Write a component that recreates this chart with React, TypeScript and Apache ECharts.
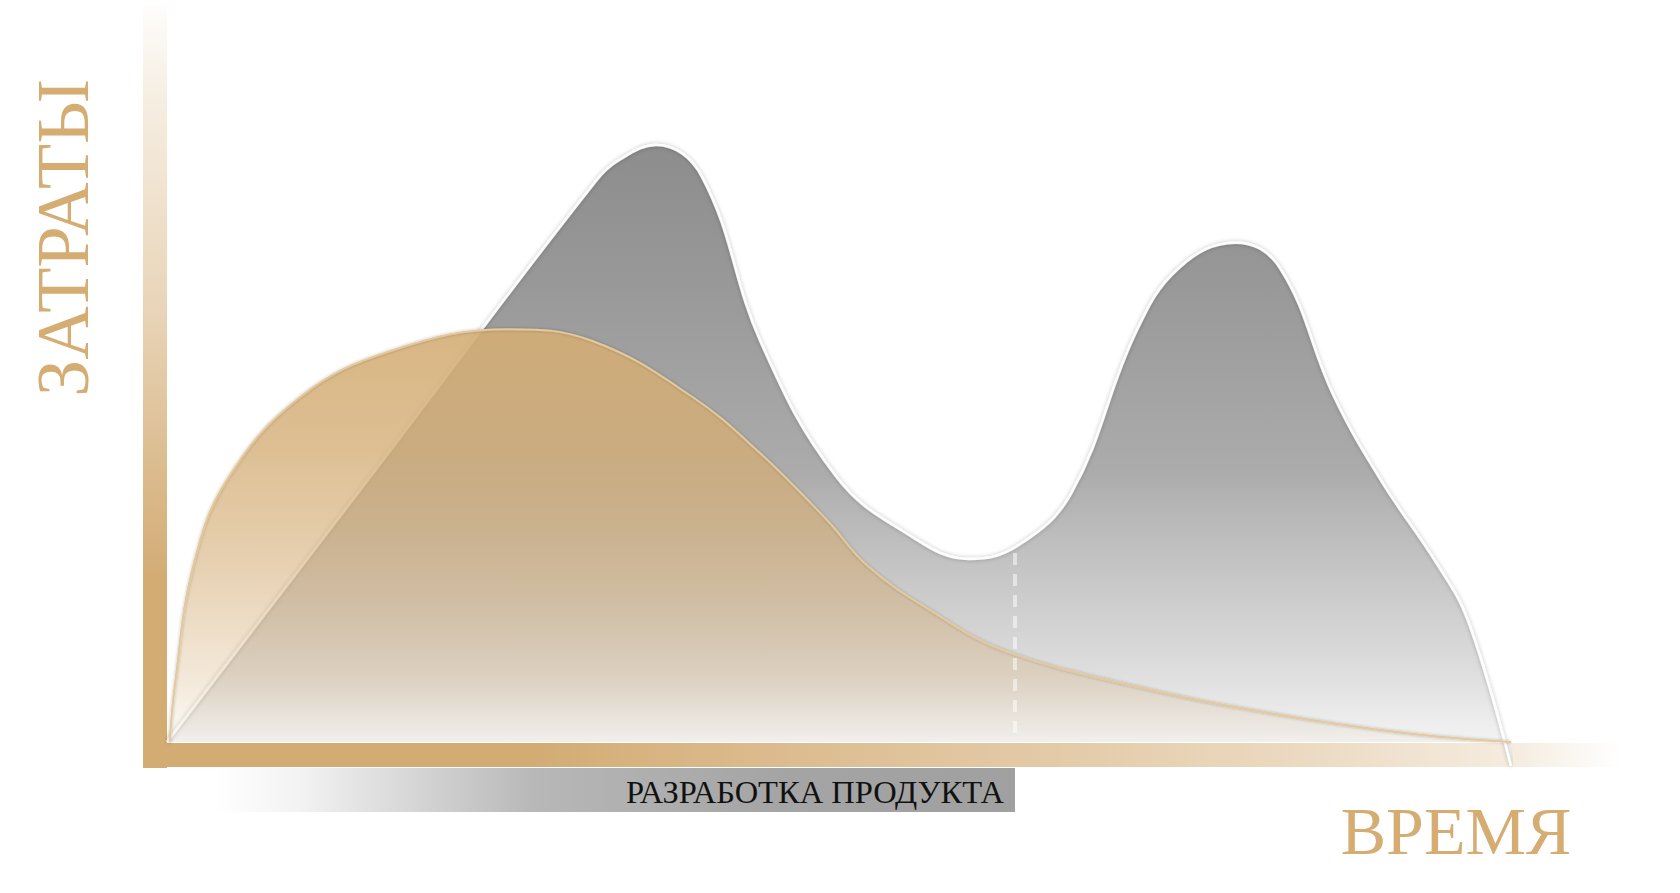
import React, { useEffect, useRef } from "react";
import * as echarts from "echarts";

// Time axis (0..100) and cost axis values
const grayTime = [0, 16.0, 31.85, 33.8, 36.4, 39.8, 44.2, 49.8, 55.0, 59.7, 63.3, 67.3, 72.1, 75.3, 79.5, 82.8, 86.8, 90.4, 94.4, 96.8, 100];
const grayCost = [0, 46.75, 93.3, 97.2, 99.5, 94.2, 66.5, 44.2, 34.8, 30.5, 32.7, 41.5, 68.3, 79.0, 83.2, 79.0, 57.7, 43.3, 30.0, 20.2, -4.0];

const goldTime = [0.2, 0.6, 1.93, 4.46, 9.9, 16.8, 25.5, 31.7, 39.1, 44.1, 49.1, 52.2, 56.9, 62.2, 72.2, 82.1, 92.1, 100];
const goldCost = [0, 9.8, 29.2, 43.7, 57.5, 65.3, 68.8, 66.8, 57.5, 48.2, 37.0, 29.2, 21.8, 15.3, 9.2, 4.8, 1.5, 0];

// End of the product development phase (dashed marker)
const devEndTime = 63.1;
const devEndCost = 31.5;

const yTitle = "ЗАТРАТЫ";
const xTitle = "ВРЕМЯ";
const phaseLabel = "РАЗРАБОТКА ПРОДУКТА";

const GOLD = "#D5AD72";
const SERIF = "'Liberation Serif', 'DejaVu Serif', serif";

export default function App() {
  const ref = useRef<HTMLDivElement>(null);

  useEffect(() => {
    if (!ref.current) return;
    const chart = echarts.init(ref.current, null, { renderer: "svg" });

    const grayData = grayTime.map((t, i) => [t, grayCost[i]]);
    const goldData = goldTime.map((t, i) => [t, goldCost[i]]);

    const option: any = {
      animation: false,
      backgroundColor: "#ffffff",
      grid: { left: 167, right: 169, top: 112, bottom: 91 },
      xAxis: { type: "value", min: 0, max: 100, show: false },
      yAxis: { type: "value", min: -10, max: 105, show: false },
      graphic: [
        {
          type: "rect",
          z: 0,
          shape: { x: 143, y: 5, width: 24, height: 763 },
          style: {
            fill: new echarts.graphic.LinearGradient(0, 0, 0, 1, [
              { offset: 0, color: "rgba(211,172,116,0.02)" },
              { offset: 0.1, color: "rgba(211,172,116,0.18)" },
              { offset: 0.26, color: "rgba(211,172,116,0.36)" },
              { offset: 0.39, color: "rgba(211,172,116,0.5)" },
              { offset: 0.6, color: "rgba(211,172,116,0.8)" },
              { offset: 0.75, color: "rgba(211,172,116,1)" },
              { offset: 1, color: "rgba(211,172,116,1)" },
            ]),
          },
        },
        {
          type: "rect",
          z: 0,
          shape: { x: 167, y: 743, width: 1453, height: 24 },
          style: {
            fill: new echarts.graphic.LinearGradient(0, 0, 1, 0, [
              { offset: 0, color: "rgba(211,172,116,1)" },
              { offset: 0.25, color: "rgba(211,172,116,1)" },
              { offset: 0.43, color: "rgba(211,172,116,0.8)" },
              { offset: 0.61, color: "rgba(211,172,116,0.63)" },
              { offset: 0.78, color: "rgba(211,172,116,0.45)" },
              { offset: 0.93, color: "rgba(211,172,116,0.22)" },
              { offset: 1, color: "rgba(211,172,116,0)" },
            ]),
          },
        },
        {
          type: "rect",
          z: 0,
          shape: { x: 214, y: 768, width: 801, height: 44 },
          style: {
            fill: new echarts.graphic.LinearGradient(0, 0, 1, 0, [
              { offset: 0, color: "rgba(160,160,160,0)" },
              { offset: 0.1, color: "rgba(160,160,160,0.12)" },
              { offset: 0.4, color: "rgba(160,160,160,0.75)" },
              { offset: 0.7, color: "rgba(160,160,160,0.95)" },
              { offset: 1, color: "rgba(160,160,160,1)" },
            ]),
          },
        },
        {
          type: "text",
          z: 5,
          x: 1004,
          y: 792,
          style: {
            text: phaseLabel,
            fill: "#111111",
            font: `32.5px ${SERIF}`,
            align: "right",
            verticalAlign: "middle",
          },
        },
        {
          type: "text",
          z: 5,
          x: 1456,
          y: 831,
          style: {
            text: xTitle,
            fill: GOLD,
            font: `68px ${SERIF}`,
            align: "center",
            verticalAlign: "middle",
          },
        },
        {
          type: "text",
          z: 5,
          x: 63,
          y: 238,
          rotation: Math.PI / 2,
          style: {
            text: yTitle,
            fill: GOLD,
            font: `74px ${SERIF}`,
            align: "center",
            verticalAlign: "middle",
          },
        },
      ],
      series: [
        {
          type: "line",
          name: "gray",
          data: grayData,
          smooth: 0.4,
          showSymbol: false,
          z: 2,
          lineStyle: {
            color: "rgba(255,255,255,0.95)",
            width: 2.5,
            shadowColor: "rgba(0,0,0,0.3)",
            shadowBlur: 4,
          },
          areaStyle: {
            opacity: 1,
            color: new echarts.graphic.LinearGradient(0, 0, 0, 1, [
              { offset: 0, color: "#8d8d8d" },
              { offset: 0.2, color: "#979797" },
              { offset: 0.52, color: "#ababab" },
              { offset: 0.67, color: "#c3c3c3" },
              { offset: 0.85, color: "#dedede" },
              { offset: 0.96, color: "rgba(242,242,242,0.95)" },
              { offset: 1, color: "rgba(245,245,245,0.7)" },
            ]),
          },
        },
        {
          type: "line",
          name: "gold",
          data: goldData,
          smooth: 0.4,
          showSymbol: false,
          z: 3,
          lineStyle: {
            color: "#e4c99b",
            width: 2,
            shadowColor: "rgba(0,0,0,0.28)",
            shadowBlur: 3,
          },
          areaStyle: {
            opacity: 1,
            color: new echarts.graphic.LinearGradient(0, 0, 0, 1, [
              { offset: 0, color: "rgba(212,173,117,0.9)" },
              { offset: 0.29, color: "rgba(212,173,117,0.78)" },
              { offset: 0.575, color: "rgba(212,173,117,0.56)" },
              { offset: 0.85, color: "rgba(212,173,117,0.27)" },
              { offset: 1, color: "rgba(212,173,117,0.05)" },
            ]),
          },
          markLine: {
            silent: true,
            symbol: "none",
            label: { show: false },
            lineStyle: {
              color: "rgba(255,255,255,0.5)",
              width: 4,
              type: [12, 9],
            },
            data: [[{ coord: [devEndTime, devEndCost] }, { coord: [devEndTime, 0] }]],
          },
        },
      ],
    };

    chart.setOption(option);
    return () => chart.dispose();
  }, []);

  return (
    <div
      ref={ref}
      style={{ position: "fixed", left: 0, top: 0, width: 1680, height: 893 }}
    />
  );
}
